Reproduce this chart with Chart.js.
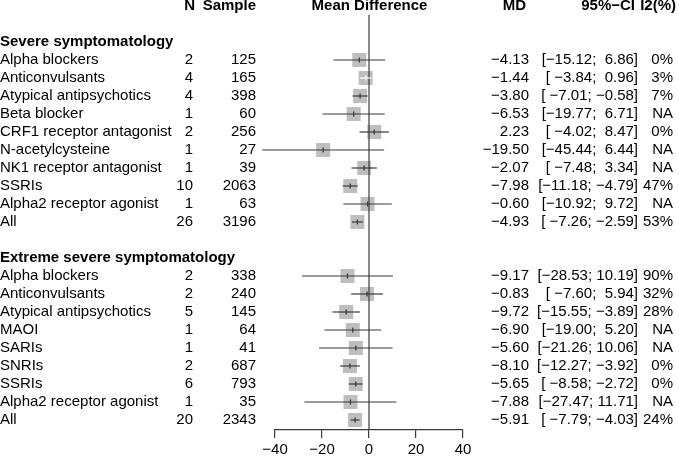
<!DOCTYPE html>
<html>
<head>
<meta charset="utf-8">
<script src="https://cdn.jsdelivr.net/npm/chart.js@4.4.0/dist/chart.umd.min.js"></script>
<style>
  html, body { margin: 0; padding: 0; background: #fff; }
  #wrap { width: 679px; height: 462px; position: relative; }
</style>
</head>
<body>
<div id="wrap"><canvas id="forest"></canvas></div>
<script>
// --- data ---
const groupTitles = ['Severe symptomatology', 'Extreme severe symptomatology'];

const severeNames = ['Alpha blockers', 'Anticonvulsants', 'Atypical antipsychotics', 'Beta blocker',
    'CRF1 receptor antagonist', 'N-acetylcysteine', 'NK1 receptor antagonist', 'SSRIs',
    'Alpha2 receptor agonist', 'All'];
const severeN = [2, 4, 4, 1, 2, 1, 1, 10, 1, 26];
const severeSample = [125, 165, 398, 60, 256, 27, 39, 2063, 63, 3196];
const severeMD = [-4.13, -1.44, -3.80, -6.53, 2.23, -19.50, -2.07, -7.98, -0.60, -4.93];
const severeLower = [-15.12, -3.84, -7.01, -19.77, -4.02, -45.44, -7.48, -11.18, -10.92, -7.26];
const severeUpper = [6.86, 0.96, -0.58, 6.71, 8.47, 6.44, 3.34, -4.79, 9.72, -2.59];
const severeI2 = ['0%', '3%', '7%', 'NA', '0%', 'NA', 'NA', '47%', 'NA', '53%'];

const extremeNames = ['Alpha blockers', 'Anticonvulsants', 'Atypical antipsychotics', 'MAOI',
    'SARIs', 'SNRIs', 'SSRIs', 'Alpha2 receptor agonist', 'All'];
const extremeN = [2, 2, 5, 1, 1, 2, 6, 1, 20];
const extremeSample = [338, 240, 145, 64, 41, 687, 793, 35, 2343];
const extremeMD = [-9.17, -0.83, -9.72, -6.90, -5.60, -8.10, -5.65, -7.88, -5.91];
const extremeLower = [-28.53, -7.60, -15.55, -19.00, -21.26, -12.27, -8.58, -27.47, -7.79];
const extremeUpper = [10.19, 5.94, -3.89, 5.20, 10.06, -3.92, -2.72, 11.71, -4.03];
const extremeI2 = ['90%', '32%', '28%', 'NA', 'NA', '0%', '0%', 'NA', '24%'];

const xTicks = [-40, -20, 0, 20, 40];

// --- layout / style ---
const FONT = '"Liberation Sans", Arial, Helvetica, sans-serif';
const LINE = '#3a3a3a';
const BOX = '#bebebe';

// build the row table: row 0 = column headers, then a title row per group
const rows = [];
function addGroup(title, names, n, samp, md, lo, hi, i2, start) {
    rows.push({ kind: 'title', text: title, y: start });
    names.forEach((nm, i) => {
        rows.push({ kind: 'study', name: nm, n: n[i], sample: samp[i], md: md[i],
            lo: lo[i], hi: hi[i], i2: i2[i], y: start + 1 + i });
    });
}
addGroup(groupTitles[0], severeNames, severeN, severeSample, severeMD, severeLower, severeUpper, severeI2, 2);
addGroup(groupTitles[1], extremeNames, extremeN, extremeSample, extremeMD, extremeLower, extremeUpper, extremeI2, 14);

const studies = rows.filter(r => r.kind === 'study');

const minus = s => s.replace(/-/g, '\u2212');
const fmt = v => minus(v.toFixed(2));
const pad = (s, w) => ' '.repeat(Math.max(0, w - s.length)) + s;
const ciText = r => '[' + pad(fmt(r.lo), 6) + '; ' + pad(fmt(r.hi), 5) + ']';

// the one CI that sits inside its square is drawn in white
const ciColour = r => (r.name === 'Anticonvulsants' && r.y === 4) ? '#ffffff' : LINE;

const datasets = [];
studies.forEach(r => {
    datasets.push({
        type: 'line',
        data: [{ x: r.lo, y: r.y }, { x: r.hi, y: r.y }],
        borderColor: ciColour(r),
        borderWidth: 1.2,
        pointRadius: 0,
        clip: false,
        order: 1
    });
});
// reference line at zero
datasets.push({
    type: 'line',
    data: [{ x: 0, y: 0.5 }, { x: 0, y: 23.556 }],
    borderColor: LINE,
    borderWidth: 1.2,
    pointRadius: 0,
    clip: false,
    order: 2
});
// squares
datasets.push({
    type: 'scatter',
    data: studies.map(r => ({ x: r.md, y: r.y })),
    pointStyle: 'rect',
    pointRadius: 9.9,
    backgroundColor: BOX,
    borderWidth: 0,
    clip: false,
    order: 5
});
// point-estimate ticks
datasets.push({
    type: 'scatter',
    data: studies.map(r => ({ x: r.md, y: r.y })),
    pointStyle: 'line',
    rotation: 90,
    pointRadius: 2.5,
    borderColor: studies.map(ciColour),
    pointBorderColor: studies.map(ciColour),
    borderWidth: 1.3,
    clip: false,
    order: 0
});

// table text drawn against the y scale
const tableText = {
    id: 'tableText',
    afterDraw(chart) {
        const ctx = chart.ctx;
        const y = chart.scales.y;
        ctx.save();
        ctx.fillStyle = '#000';
        ctx.textBaseline = 'middle';

        const put = (txt, x, row, align, bold) => {
            ctx.font = (bold ? 'bold ' : '') + '15px ' + FONT;
            ctx.textAlign = align;
            ctx.fillText(txt, x, y.getPixelForValue(row));
        };

        put('N', 195, 0, 'right', true);
        put('Sample', 256, 0, 'right', true);
        put('Mean Difference', 369.5, 0, 'center', true);
        put('MD', 526, 0, 'right', true);
        put('95%\u2212CI', 635, 0, 'right', true);
        put('I2(%)', 676, 0, 'right', true);

        rows.forEach(r => {
            if (r.kind === 'title') {
                put(r.text, 0, r.y, 'left', true);
                return;
            }
            put(r.name, 0, r.y, 'left', false);
            put(String(r.n), 193, r.y, 'right', false);
            put(String(r.sample), 256, r.y, 'right', false);
            put(fmt(r.md), 529, r.y, 'right', false);
            put(ciText(r), 638, r.y, 'right', false);
            put(r.i2, 673, r.y, 'right', false);
        });
        ctx.restore();
    }
};

new Chart(document.getElementById('forest'), {
    data: { datasets },
    options: {
        responsive: true,
        maintainAspectRatio: false,
        animation: false,
        layout: { padding: { left: 275, right: 216, top: 15, bottom: 0 } },
        plugins: { legend: { display: false }, tooltip: { enabled: false } },
        scales: {
            x: {
                type: 'linear',
                min: -40,
                max: 40,
                afterBuildTicks: axis => { axis.ticks = xTicks.map(v => ({ value: v })); },
                grid: { drawOnChartArea: false, drawTicks: true, tickLength: 8, color: LINE, lineWidth: 1.2 },
                border: { display: true, color: LINE, width: 1.2 },
                ticks: {
                    color: '#000',
                    padding: 3,
                    maxRotation: 0,
                    font: { family: FONT, size: 15 },
                    callback: v => minus(String(v))
                }
            },
            y: {
                type: 'linear',
                display: false,
                reverse: true,
                min: 0.5,
                max: 23.556
            }
        }
    },
    plugins: [tableText]
});
</script>
</body>
</html>
